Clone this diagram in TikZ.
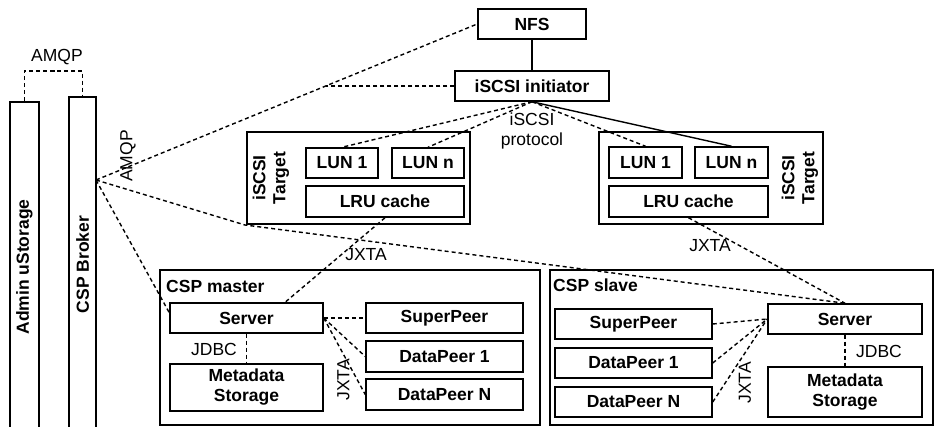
\documentclass[tikz,border=0pt]{standalone}
\usepackage{fontspec}
\setmainfont{Liberation Sans}
\usetikzlibrary{calc}
\begin{document}
\begin{tikzpicture}[x=1pt,y=-1pt,
  every node/.style={font=\fontsize{17.5}{20}\selectfont},
  box/.style={draw, line width=1.5pt, fill=white, font=\fontsize{17.5}{20}\selectfont\bfseries, align=center, inner sep=0pt},
  grp/.style={draw, line width=1.5pt, fill=white, inner sep=0pt},
  btxt/.style={font=\fontsize{17.5}{20}\selectfont\bfseries, inner sep=0pt, align=center},
  dsh/.style={line width=1.4pt, dash pattern=on 4pt off 3pt},
  sol/.style={line width=1.4pt},
  lbl/.style={inner sep=0pt, align=center}]
\useasboundingbox (0,0) rectangle (935,427);
\fill[white] (0,0) rectangle (935,427);

% left columns
\node[box, minimum width=29pt, minimum height=330pt] (admin) at (24.5,267) {};
\node[btxt, rotate=90] (admintxt) at (admin) {Admin uStorage};
\node[box, minimum width=27pt, minimum height=335pt] (broker) at (82.5,264.5) {};
\node[btxt, rotate=90] (brokertxt) at (broker) {CSP Broker};
\coordinate (amqptop) at (54,71);
\coordinate (bk) at (96,180);

% NFS and initiator
\node[box, minimum width=108pt, minimum height=30pt] (nfs) at (532,24) {NFS};
\node[box, minimum width=154pt, minimum height=30pt] (ini) at (532,86) {iSCSI initiator};

% left target
\node[grp, minimum width=223pt, minimum height=92pt] (tgtL) at (358.5,178) {};
\node[btxt, rotate=90] (tgtLtxt) at (271,178) {iSCSI\\Target};
\node[box, minimum width=72pt, minimum height=30pt] (lun1L) at (342,163) {LUN 1};
\node[box, minimum width=72pt, minimum height=30pt] (lunnL) at (428,163) {LUN n};
\node[box, minimum width=158pt, minimum height=31pt] (lruL) at (385,201.5) {LRU cache};

% right target
\node[grp, minimum width=224pt, minimum height=92pt] (tgtR) at (711,178) {};
\node[btxt, rotate=90] (tgtRtxt) at (800,178) {iSCSI\\Target};
\node[box, minimum width=73pt, minimum height=31pt] (lun1R) at (645.5,162.5) {LUN 1};
\node[box, minimum width=73pt, minimum height=31pt] (lunnR) at (731.5,162.5) {LUN n};
\node[box, minimum width=159pt, minimum height=31pt] (lruR) at (688.5,201.5) {LRU cache};

% CSP master
\node[grp, minimum width=380pt, minimum height=155pt] (master) at (350,347.5) {};
\node[btxt, anchor=west] (mastertxt) at (166,286) {CSP master};
\node[box, minimum width=153pt, minimum height=30pt] (mserver) at (246.5,318) {Server};
\node[box, minimum width=153pt, minimum height=47pt] (mmeta) at (246.5,387.5) {Metadata\\Storage};
\node[box, minimum width=157pt, minimum height=30pt] (msuper) at (444.5,318) {SuperPeer};
\node[box, minimum width=157pt, minimum height=31pt] (mdp1) at (444.5,356.5) {DataPeer 1};
\node[box, minimum width=157pt, minimum height=31pt] (mdpn) at (444.5,394.5) {DataPeer N};

% CSP slave
\node[grp, minimum width=383pt, minimum height=155pt] (slave) at (741.5,347.5) {};
\node[btxt, anchor=west] (slavetxt) at (553,285) {CSP slave};
\node[box, minimum width=157pt, minimum height=30pt] (ssuper) at (633.5,324) {SuperPeer};
\node[box, minimum width=157pt, minimum height=30pt] (sdp1) at (633.5,363) {DataPeer 1};
\node[box, minimum width=157pt, minimum height=30pt] (sdpn) at (633.5,402) {DataPeer N};
\node[box, minimum width=154pt, minimum height=30pt] (sserver) at (845,319) {Server};
\node[box, minimum width=154pt, minimum height=50pt] (smeta) at (845,392) {Metadata\\Storage};

% connectors
\draw[dsh] (admin.north) |- (amqptop) -| (broker.north);
\draw[dsh] (bk) -- (nfs.west);
\coordinate (j1) at (326,86);
\draw[dsh] (ini.west) -- (j1);
\draw[sol] (nfs.south) -- (ini.north);
\draw[dsh] (ini.south) -- (lun1L.north);
\draw[dsh] (ini.south) -- (lunnL.north);
\draw[dsh] (ini.south) -- (lun1R.north);
\draw[sol] (ini.south) -- (lunnR.north);
\draw[dsh] (lruL.south) -- ($(mserver.north west)!0.75!(mserver.north east)$);
\draw[dsh] (lruR.south) -- (sserver.north);
\coordinate (bend) at (245,225);
\draw[dsh] (bk) -- (bend) -- (sserver.north);
\draw[dsh] (bk) -- ($(mserver.north west)!0.33!(mserver.south west)$);
\draw[dsh] (mserver.south) -- (mmeta.north);
\draw[dsh] (mserver.east) -- (msuper.west);
\draw[dsh] (mserver.east) -- (mdp1.west);
\draw[dsh] (mserver.east) -- (mdpn.west);
\draw[dsh] (ssuper.east) -- (sserver.west);
\draw[dsh] (sdp1.east) -- (sserver.west);
\draw[dsh] (sdpn.east) -- (sserver.west);
\draw[dsh] (sserver.south) -- (smeta.north);

% labels
\node[lbl] (amqp1) at (57,57) {AMQP};
\node[lbl, rotate=90] (amqp2) at (128,156) {AMQP};
\node[lbl] (proto) at (532,131) {iSCSI\\protocol};
\node[lbl] (jxta1) at (366,255) {JXTA};
\node[lbl] (jxta2) at (710,246) {JXTA};
\node[lbl] (jdbc1) at (214,349) {JDBC};
\node[lbl, rotate=90] (jxta3) at (343.5,380) {JXTA};
\node[lbl] (jdbc2) at (879,351) {JDBC};
\node[lbl, rotate=90] (jxta4) at (745,383) {JXTA};
\end{tikzpicture}
\end{document}
